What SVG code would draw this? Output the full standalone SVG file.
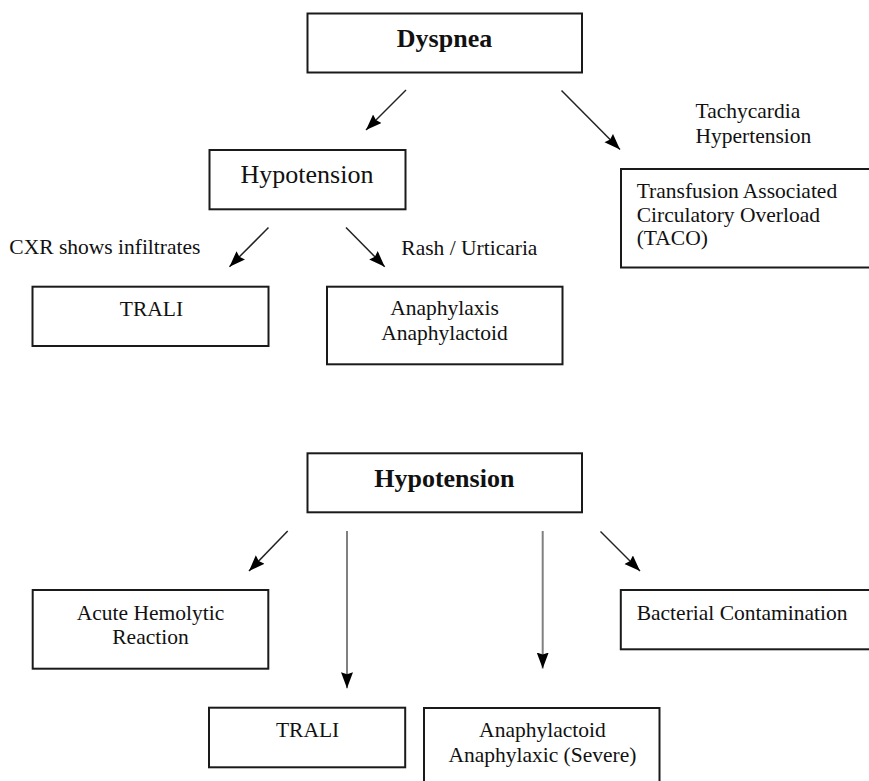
<svg xmlns="http://www.w3.org/2000/svg" width="869" height="781" viewBox="0 0 869 781">
<style>
.box{fill:#fff;stroke:#1a1a1a;stroke-width:2}
.t{font-family:"Liberation Serif","Times New Roman",serif;font-size:21.5px;fill:#111}
.big{font-family:"Liberation Serif","Times New Roman",serif;font-size:26px;fill:#111}
.b{font-weight:bold}
.diag{stroke:#222;stroke-width:1.5;fill:none}
.vert{stroke:#808080;stroke-width:2;fill:none}
</style>
<defs>
<marker id="ah" markerUnits="userSpaceOnUse" markerWidth="17" markerHeight="13" refX="16" refY="6" orient="auto">
<path d="M0,0 L16,6 L0,12 L2,6 z" fill="#000"/>
</marker>
</defs>
<rect width="869" height="781" fill="#fff"/>
<g id="connectors">
<line class="diag" x1="406" y1="90" x2="366" y2="130" marker-end="url(#ah)"/>
<line class="diag" x1="561.5" y1="90.5" x2="620" y2="149.5" marker-end="url(#ah)"/>
<line class="diag" x1="268.5" y1="227.5" x2="229.5" y2="266.7" marker-end="url(#ah)"/>
<line class="diag" x1="346" y1="227.5" x2="384.7" y2="266.7" marker-end="url(#ah)"/>
<line class="diag" x1="287.7" y1="531" x2="249" y2="571" marker-end="url(#ah)"/>
<line class="vert" x1="347" y1="531" x2="347" y2="688.3" marker-end="url(#ah)"/>
<line class="vert" x1="542.7" y1="531" x2="542.7" y2="668.5" marker-end="url(#ah)"/>
<line class="diag" x1="600.5" y1="531.5" x2="640" y2="571" marker-end="url(#ah)"/>
</g>
<g id="dyspnea">
<rect class="box" x="307.5" y="13.5" width="274.5" height="59"/>
<text class="big b" x="444.5" y="46.7" text-anchor="middle">Dyspnea</text>
</g>
<g id="hypotension1">
<rect class="box" x="209.5" y="150" width="196" height="59.3"/>
<text class="big" x="307" y="183" text-anchor="middle">Hypotension</text>
</g>
<g id="label-tachy">
<text class="t" x="695.5" y="118.3">Tachycardia</text>
<text class="t" x="695.5" y="143.3">Hypertension</text>
</g>
<g id="taco">
<rect class="box" x="621" y="169" width="270" height="98.5"/>
<text class="t" x="636.7" y="198.3">Transfusion Associated</text>
<text class="t" x="636.7" y="221.7">Circulatory Overload</text>
<text class="t" x="636.7" y="245">(TACO)</text>
</g>
<g id="label-cxr">
<text class="t" x="9.3" y="254.3">CXR shows infiltrates</text>
</g>
<g id="label-rash">
<text class="t" x="401.3" y="255">Rash / Urticaria</text>
</g>
<g id="trali1">
<rect class="box" x="32.5" y="286.7" width="236" height="59.3"/>
<text class="t" x="151.4" y="316" text-anchor="middle">TRALI</text>
</g>
<g id="anaphylaxis1">
<rect class="box" x="327" y="286.7" width="235.5" height="77.6"/>
<text class="t" x="444.5" y="315" text-anchor="middle">Anaphylaxis</text>
<text class="t" x="444.5" y="340" text-anchor="middle">Anaphylactoid</text>
</g>
<g id="hypotension2">
<rect class="box" x="307.5" y="453.3" width="274.5" height="59"/>
<text class="big b" x="444.3" y="486.7" text-anchor="middle">Hypotension</text>
</g>
<g id="hemolytic">
<rect class="box" x="32.7" y="590" width="235.6" height="78.7"/>
<text class="t" x="150.5" y="620" text-anchor="middle">Acute Hemolytic</text>
<text class="t" x="150.5" y="644" text-anchor="middle">Reaction</text>
</g>
<g id="bacterial">
<rect class="box" x="620.8" y="590" width="270" height="59.3"/>
<text class="t" x="636.7" y="620">Bacterial Contamination</text>
</g>
<g id="trali2">
<rect class="box" x="209" y="707.7" width="196.2" height="59.6"/>
<text class="t" x="307.6" y="736.7" text-anchor="middle">TRALI</text>
</g>
<g id="anaphylactoid2">
<rect class="box" x="424" y="708" width="235.5" height="90"/>
<text class="t" x="542.4" y="736.7" text-anchor="middle">Anaphylactoid</text>
<text class="t" x="542.4" y="761.7" text-anchor="middle">Anaphylaxic (Severe)</text>
</g>
</svg>
